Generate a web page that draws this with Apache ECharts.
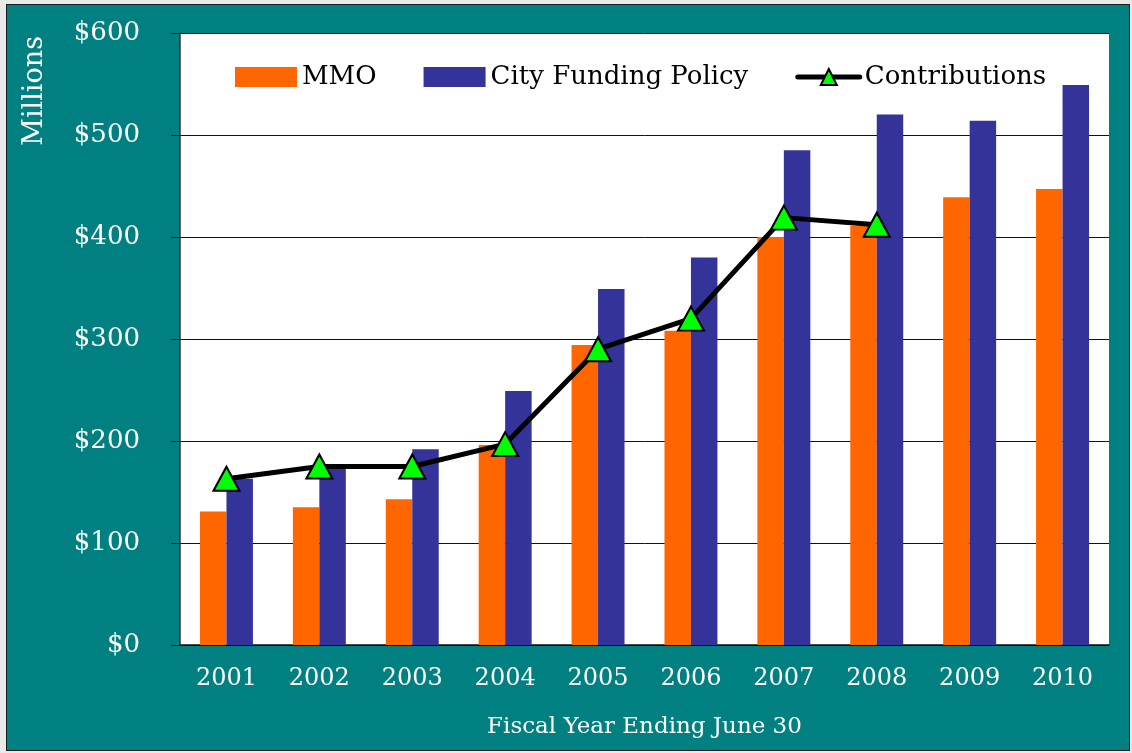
<!DOCTYPE html>
<html>
<head>
<meta charset="utf-8">
<script src="https://cdn.jsdelivr.net/npm/echarts@6/dist/echarts.min.js"></script>
<style>
  html, body { margin: 0; padding: 0; background: #e9e9e9; }
  #frame { position: absolute; left: 6px; top: 4px; width: 1122px; height: 745px;
           background: #008080; border: 1px solid #1c1c1c; }
  #chart { position: absolute; left: 0; top: 0; width: 1132px; height: 753px; }
</style>
</head>
<body>
<div id="frame"></div>
<div id="chart"></div>
<script>
// fiscal years
var years = ['2001', '2002', '2003', '2004', '2005', '2006', '2007', '2008', '2009', '2010'];
// millions of dollars
var mmo = [131, 135, 143, 196, 294, 308, 400, 411, 439, 447];
var cityPolicy = [163, 175, 192, 249, 349, 380, 485, 520, 514, 549];
var contributions = [163, 175, 175, 197, 290, 320, 419, 412, null, null];

var font = 'DejaVu Serif';

var chart = echarts.init(document.getElementById('chart'), null, { renderer: 'canvas' });

var option = {
  backgroundColor: 'transparent',
  animation: false,
  textStyle: { fontFamily: font },
  grid: {
    left: 180, right: 23, top: 33, bottom: 108,
    show: true, backgroundColor: '#ffffff', borderWidth: 0
  },
  legend: {
    left: 230, top: 59,
    itemWidth: 62, itemHeight: 20, itemGap: 47,
    textStyle: { fontFamily: font, fontSize: 26, color: '#000' },
    data: [
      { name: 'MMO', icon: 'rect' },
      { name: 'City Funding Policy', icon: 'rect' },
      { name: 'Contributions', lineStyle: { width: 5, cap: 'round' } }
    ]
  },
  graphic: [{
    type: 'text',
    left: 21, top: 36,
    rotation: Math.PI / 2,
    style: { text: 'Millions', fill: '#fff', font: '27px "DejaVu Serif"' }
  }],
  xAxis: {
    type: 'category',
    data: years,
    name: 'Fiscal Year Ending June 30',
    nameLocation: 'middle',
    nameGap: 71,
    nameTextStyle: { color: '#fff', fontSize: 23, fontFamily: font },
    axisLine: { lineStyle: { color: '#111', width: 1.5 } },
    axisTick: { show: false },
    axisLabel: { color: '#fff', fontSize: 24, margin: 22, fontFamily: font }
  },
  yAxis: {
    type: 'value',
    min: 0, max: 600, interval: 100,
    axisLine: { show: true, lineStyle: { color: '#333', width: 1.5 } },
    axisTick: { show: true, length: 9, lineStyle: { color: '#111' } },
    axisLabel: { color: '#fff', fontSize: 26, margin: 40, fontFamily: font, formatter: '${value}' },
    splitLine: { lineStyle: { color: '#111', width: 1 } }
  },
  series: [
    {
      name: 'MMO', type: 'bar', data: mmo,
      barGap: 0, barCategoryGap: '43%',
      itemStyle: { color: '#ff6600' }
    },
    {
      name: 'City Funding Policy', type: 'bar', data: cityPolicy,
      itemStyle: { color: '#333399' }
    },
    {
      name: 'Contributions', type: 'line', data: contributions,
      symbol: 'triangle', symbolSize: [26, 24],
      lineStyle: { color: '#000', width: 5 },
      itemStyle: { color: '#00ff00', borderColor: '#000', borderWidth: 2 },
      z: 5
    }
  ]
};

chart.setOption(option);
</script>
</body>
</html>
